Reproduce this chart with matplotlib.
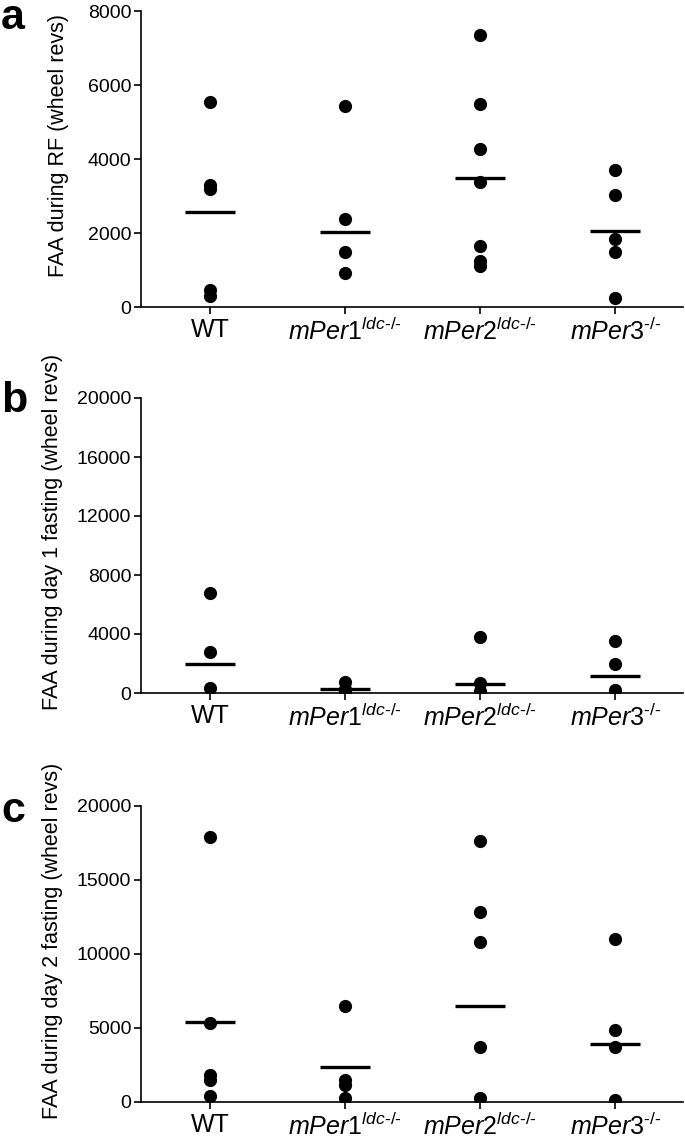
import matplotlib
matplotlib.use("Agg")
import matplotlib.pyplot as plt
import numpy as np

plt.rcParams['font.family'] = ['Liberation Sans', 'DejaVu Sans']
plt.rcParams['mathtext.fontset'] = 'custom'
plt.rcParams['mathtext.rm'] = 'Liberation Sans'
plt.rcParams['mathtext.it'] = 'Liberation Sans:italic'
plt.rcParams['mathtext.bf'] = 'Liberation Sans:bold'

# ---- data ----
groups = ["WT", "mPer1", "mPer2", "mPer3"]
group_sups = ["", "ldc\u2010/\u2010", "ldc\u2010/\u2010", "\u2010/\u2010"]

a_wt = [5540, 3300, 3200, 470, 290]
a_per1 = [5440, 2380, 1500, 920]
a_per2 = [7340, 5480, 4280, 3370, 1660, 1230, 1100]
a_per3 = [3710, 3030, 1840, 1490, 230]
a_means = [2560, 2030, 3500, 2060]

b_wt = [6810, 2800, 350]
b_per1 = [740, 300, 150]
b_per2 = [3770, 700, 150]
b_per3 = [3500, 1980, 200]
b_means = [1960, 250, 640, 1130]

c_wt = [17930, 5330, 1840, 1460, 430]
c_per1 = [6460, 1510, 1170, 270]
c_per2 = [17640, 12870, 10800, 3710, 270]
c_per3 = [11020, 4840, 3710, 160]
c_means = [5400, 2380, 6500, 3910]

a_ticks = [0, 2000, 4000, 6000, 8000]
b_ticks = [0, 4000, 8000, 12000, 16000, 20000]
c_ticks = [0, 5000, 10000, 15000, 20000]

ylabels = ["FAA during RF (wheel revs)",
           "FAA during day 1 fasting (wheel revs)",
           "FAA during day 2 fasting (wheel revs)"]
letters = ["a", "b", "c"]

panels = [
    ([a_wt, a_per1, a_per2, a_per3], a_means, a_ticks),
    ([b_wt, b_per1, b_per2, b_per3], b_means, b_ticks),
    ([c_wt, c_per1, c_per2, c_per3], c_means, c_ticks),
]

W, H = 685, 1138
fig = plt.figure(figsize=(W / 100, H / 100), dpi=100)

# axes rectangles in pixels: (left, top, right, bottom)
rects = [(141, 11, 683, 307), (141, 398, 683, 693), (141, 806, 683, 1102)]
label_x = [-0.133, -0.144, -0.144]
letter_pos = [(1, 29), (1, 412), (1, 822)]


def tick_label(name, sup):
    if sup == "":
        return name
    return r'$\mathit{' + name + '}^{\mathit{' + sup + '}}$'


for i, (data, means, ticks) in enumerate(panels):
    l, t, r, b = rects[i]
    ax = fig.add_axes([l / W, 1 - b / H, (r - l) / W, (b - t) / H])
    for gi, vals in enumerate(data):
        ax.plot(np.full(len(vals), gi), vals, 'o', color='black',
                markersize=9.5, markeredgewidth=0)
        ax.plot([gi - 0.185, gi + 0.185], [means[gi], means[gi]],
                color='black', lw=2.4, solid_capstyle='butt')
    ax.set_xlim(-0.51, 3.5)
    ax.set_ylim(0, ticks[-1])
    ax.set_yticks(ticks)
    ax.set_yticklabels([str(v) for v in ticks], fontsize=14)
    ax.set_xticks(range(len(groups)))
    ax.set_xticklabels([tick_label(g, s) for g, s in zip(groups, group_sups)],
                       fontsize=18)
    for sp in ['top', 'right']:
        ax.spines[sp].set_visible(False)
    for sp in ['left', 'bottom']:
        ax.spines[sp].set_linewidth(1.2)
    ax.tick_params(axis='both', direction='out', length=5, width=1.2,
                   pad=2)
    ax.tick_params(axis='x', pad=3)
    ax.set_ylabel(ylabels[i], fontsize=15.5)
    ax.yaxis.set_label_coords(label_x[i], 0.545)
    lx, ly = letter_pos[i]
    fig.text(lx / W, 1 - ly / H, letters[i], fontsize=31,
             fontweight='bold', ha='left', va='baseline')

fig.savefig("out.png", dpi=100)
